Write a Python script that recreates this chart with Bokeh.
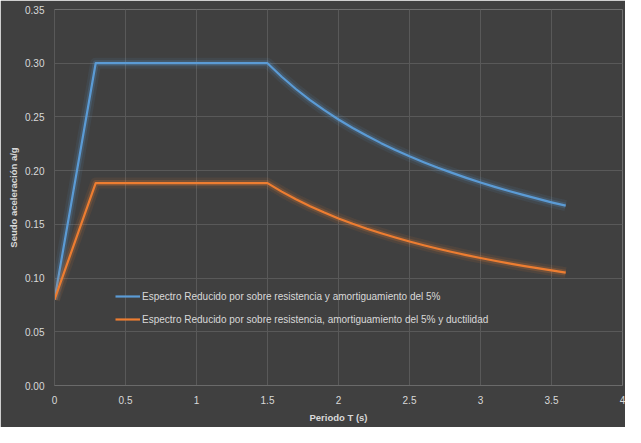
from bokeh.plotting import figure
from bokeh.embed import file_html
from bokeh.resources import INLINE
from bokeh.models import FixedTicker, CustomJSTickFormatter, NumeralTickFormatter, Range1d

# ---- data ----
periodo = [0.0, 0.29, 0.5, 1.0, 1.5, 1.6, 1.7, 1.8, 1.9, 2.0, 2.1, 2.2, 2.3, 2.4, 2.5,
           2.6, 2.7, 2.8, 2.9, 3.0, 3.1, 3.2, 3.3, 3.4, 3.5, 3.6]
espectro_sobre = [0.080, 0.300, 0.300, 0.300, 0.300, 0.2874, 0.2760, 0.2657, 0.2563, 0.2476,
                  0.2397, 0.2324, 0.2256, 0.2193, 0.2134, 0.2079, 0.2027, 0.1979, 0.1933,
                  0.1890, 0.1849, 0.1810, 0.1774, 0.1739, 0.1705, 0.1674]
espectro_ductil = [0.080, 0.1884, 0.1884, 0.1884, 0.1884, 0.1805, 0.1733, 0.1669, 0.1610, 0.1555,
                   0.1505, 0.1459, 0.1417, 0.1377, 0.1340, 0.1306, 0.1273, 0.1243, 0.1214,
                   0.1187, 0.1161, 0.1137, 0.1114, 0.1092, 0.1071, 0.1051]
x_ticks = [0, 0.5, 1, 1.5, 2, 2.5, 3, 3.5, 4]
y_ticks = [0.00, 0.05, 0.10, 0.15, 0.20, 0.25, 0.30, 0.35]
label_sobre = "Espectro Reducido por sobre resistencia y amortiguamiento del 5%"
label_ductil = "Espectro Reducido por sobre resistencia, amortiguamiento del 5% y ductilidad"

BG = "#404040"
GRID = "#595959"
TXT = "#D9D9D9"
BLUE = "#5B9BD5"
ORANGE = "#ED7D31"
FONT = "Liberation Sans"

p = figure(width=625, height=427, output_backend="svg", toolbar_location=None,
           x_range=Range1d(0, 4), y_range=Range1d(0, 0.35),
           min_border_left=54, min_border_right=3, min_border_top=9, min_border_bottom=42)
p.background_fill_color = BG
p.border_fill_color = BG
p.outline_line_color = None

for ys, col, lab in [(espectro_sobre, BLUE, label_sobre), (espectro_ductil, ORANGE, label_ductil)]:
    p.line(periodo, ys, line_color=col, line_width=11, line_alpha=0.09, line_join="round")
    p.line(periodo, ys, line_color=col, line_width=6, line_alpha=0.2, line_join="round")
    p.line(periodo, ys, line_color=col, line_width=2.2, legend_label=lab, line_join="round")

p.xaxis.ticker = FixedTicker(ticks=x_ticks)
p.yaxis.ticker = FixedTicker(ticks=y_ticks)
p.xaxis.formatter = CustomJSTickFormatter(code="return tick.toString();")
p.yaxis.formatter = NumeralTickFormatter(format="0.00")

for ax in (p.xaxis[0], p.yaxis[0]):
    ax.major_tick_line_color = None
    ax.minor_tick_line_color = None
    ax.major_tick_out = 0
    ax.major_tick_in = 0
    ax.minor_tick_out = 0
    ax.minor_tick_in = 0
    ax.major_label_text_color = TXT
    ax.major_label_text_font = FONT
    ax.major_label_text_font_size = "10px"
    ax.axis_label_text_color = TXT
    ax.axis_label_text_font = FONT
    ax.axis_label_text_font_size = "9.5px"
    ax.axis_label_text_font_style = "bold"
    ax.axis_line_color = "#6a6a6a"

p.xaxis.axis_label = "Periodo T (s)"
p.yaxis.axis_label = "Seudo aceleración a/g"
p.xaxis.major_label_standoff = 10
p.yaxis.major_label_standoff = 10
p.xaxis.axis_label_standoff = 5
p.yaxis.axis_label_standoff = 3
p.yaxis.axis_line_color = GRID

p.xgrid.grid_line_color = GRID
p.ygrid.grid_line_color = GRID

lg = p.legend[0]
lg.location = (61, 60)
lg.background_fill_alpha = 0
lg.border_line_color = None
lg.padding = 0
lg.margin = 0
lg.spacing = 11
lg.glyph_width = 25
lg.glyph_height = 12
lg.label_height = 12
lg.label_standoff = 2
lg.label_text_color = TXT
lg.label_text_font = FONT
lg.label_text_font_size = "10px"

open("out.html", "w").write(file_html(p, INLINE))
